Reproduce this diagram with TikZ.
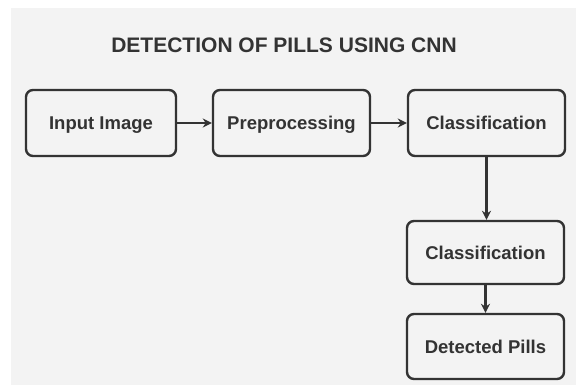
\documentclass[tikz,border=0pt]{standalone}
\usepackage{fontspec}
\setmainfont{Liberation Sans}
\usetikzlibrary{arrows.meta}
\definecolor{bg}{HTML}{F3F3F3}
\definecolor{ink}{HTML}{333333}
\definecolor{txt}{HTML}{333333}
\begin{document}
\begin{tikzpicture}[x=1pt,y=-1pt,
  stepbox/.style={draw=ink, line width=2.4pt, rounded corners=7pt, fill=bg,
    minimum width=157pt, minimum height=66pt, inner sep=0pt,
    text height=13.3pt, text depth=0pt,
    font=\fontsize{18.5}{20}\selectfont\bfseries, text=txt},
  conn/.style={draw=ink, line width=2.2pt, -{Stealth[length=9pt,width=9pt]}}]
\useasboundingbox (0,0) rectangle (576,385);
\fill[white] (0,0) rectangle (576,385);
\fill[bg] (11,8) rectangle (576,385);
\node[font=\fontsize{21}{24}\selectfont\bfseries, text=txt] (title) at (284,45) {DETECTION OF PILLS USING CNN};
\node[stepbox, minimum width=150pt] (inp) at (101,123) {Input Image};
\node[stepbox] (pre) at (291.5,123) {Preprocessing};
\node[stepbox] (cls) at (486.5,123) {Classification};
\node[stepbox, minimum height=63pt] (cls2) at (485.5,252.5) {Classification};
\node[stepbox, minimum height=65pt] (det) at (485.5,346.5) {Detected Pills};
\draw[conn] (inp.east) -- (pre.west);
\draw[conn] (pre.east) -- (cls.west);
\draw[conn] (cls.south) -- (cls.south |- cls2.north);
\draw[conn] (cls2.south) -- (det.north);
\end{tikzpicture}
\end{document}
